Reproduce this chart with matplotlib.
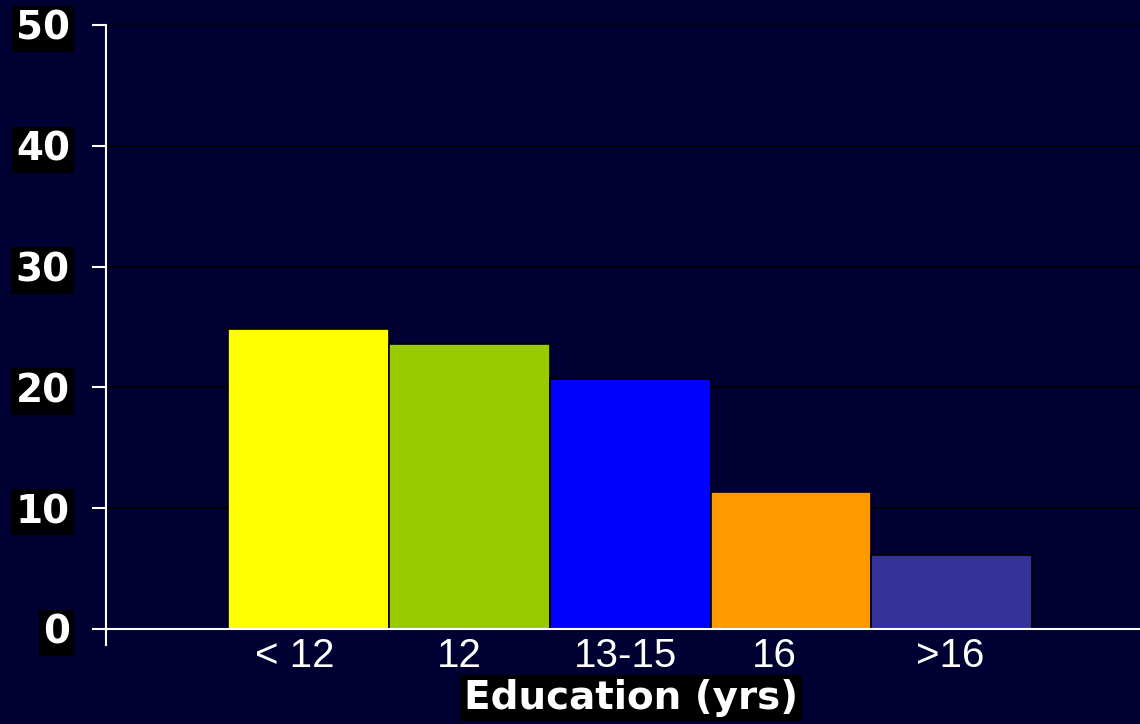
import matplotlib
matplotlib.use("Agg")
import matplotlib.pyplot as plt

# ---------------------------------------------------------------
# Data
# ---------------------------------------------------------------
categories = ["< 12", "12", "13-15", "16", ">16"]
percent = [24.8, 23.6, 20.7, 11.3, 6.1]
bar_colors = ["#FFFF00", "#99CC00", "#0000FF", "#FF9900", "#333399"]
y_ticks = [0, 10, 20, 30, 40, 50]

# small nudges so the labels sit where the slide had them
label_shift = [-0.087, -0.062, -0.031, -0.106, -0.012]

BG = "#000033"
plt.rcParams["font.family"] = ["Liberation Sans", "DejaVu Sans"]

fig = plt.figure(figsize=(11.4, 7.24), dpi=100, facecolor=BG)
ax = fig.add_axes([106 / 1140, 95 / 724, 1 - 106 / 1140, 604 / 724])
ax.set_facecolor(BG)

x = list(range(len(categories)))
ax.bar(x, percent, width=1.0, color=bar_colors, edgecolor="black",
       linewidth=1.2, zorder=3)

ax.set_xlim(-1.26, 5.17)
ax.set_ylim(0, 50)

# gridlines
ax.set_yticks(y_ticks)
ax.yaxis.grid(True, color="black", linewidth=1.5, zorder=1)
ax.set_axisbelow(True)

# spines
for s in ["top", "right"]:
    ax.spines[s].set_visible(False)
for s in ["left", "bottom"]:
    ax.spines[s].set_color("white")
    ax.spines[s].set_linewidth(1.5)
    ax.spines[s].set_zorder(4)
# little stub of the y axis below zero
ax.plot([0, 0], [0, -0.027], transform=ax.transAxes, color="white",
        linewidth=1.5, clip_on=False, zorder=4)

# y tick labels: bold white on black boxes
ax.tick_params(axis="y", direction="out", length=10, width=1.5,
               color="white", pad=16, labelsize=28, labelcolor="white")
for lbl in ax.get_yticklabels():
    lbl.set_fontfamily("DejaVu Sans")
    lbl.set_fontweight("bold")
    lbl.set_bbox(dict(facecolor="black", edgecolor="none", pad=3))

# x tick labels
ax.set_xticks([xi + d for xi, d in zip(x, label_shift)])
ax.set_xticklabels(categories)
ax.tick_params(axis="x", length=0, pad=6, labelsize=29, labelcolor="white")

fig.text(631 / 1140, 26 / 724, "Education (yrs)", ha="center", va="center",
         fontsize=28, fontweight="bold", color="white", family="DejaVu Sans",
         bbox=dict(facecolor="black", edgecolor="none", pad=3))

fig.savefig("out.png", dpi=100, facecolor=BG)
